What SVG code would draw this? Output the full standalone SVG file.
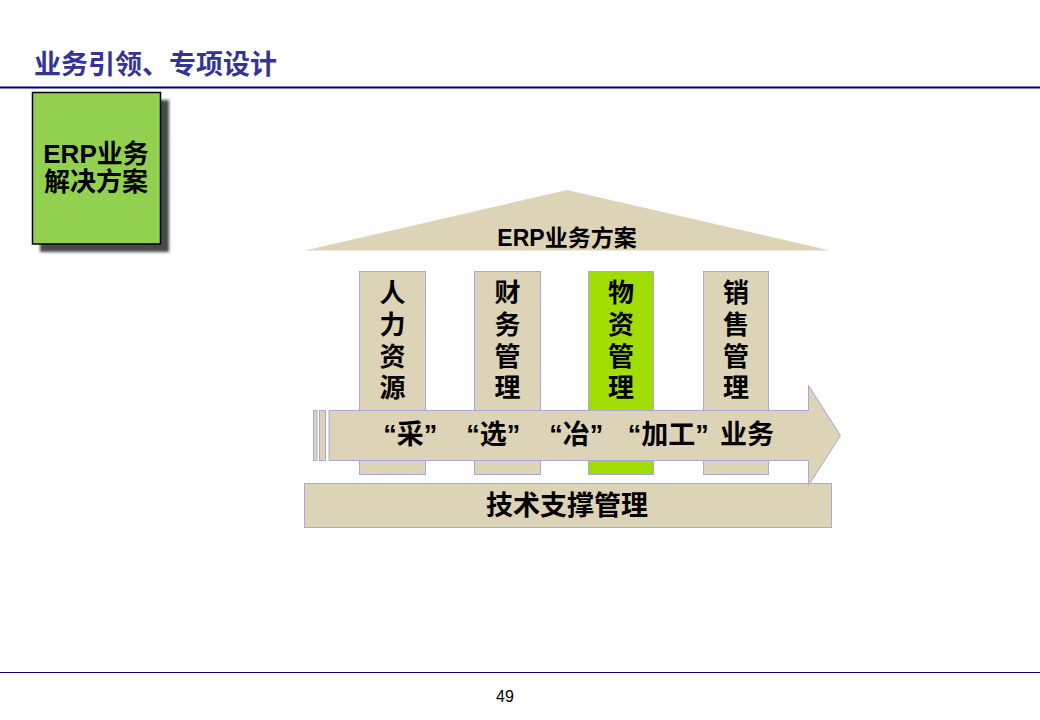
<svg xmlns="http://www.w3.org/2000/svg" width="1040" height="720" viewBox="0 0 1040 720">
<defs>
<style>
.cjk{font-family:"Liberation Sans","Noto Sans CJK SC",sans-serif;font-weight:bold;fill:#000}
.tan{fill:#DDD3B7;stroke:#A8A8E0;stroke-width:1}
.vt{font-size:26px;text-anchor:middle}
</style>
<filter id="sh" x="-20%" y="-20%" width="140%" height="140%">
<feGaussianBlur stdDeviation="1.8"/>
</filter>
</defs>
<rect width="1040" height="720" fill="#fff"/>
<g id="header">
<text x="34" y="74" class="cjk" style="font-size:27px;fill:#333399">业务引领、专项设计</text>
<line x1="0" y1="87.5" x2="1040" y2="87.5" stroke="#000080" stroke-width="2"/>
</g>
<g id="erp-box">
<rect x="40" y="100" width="129" height="152" fill="#4a4a4a" filter="url(#sh)"/>
<rect x="32.5" y="92.5" width="128" height="151.5" fill="#92D050" stroke="#000" stroke-width="1.5"/>
<text x="96" y="163" class="cjk" style="font-size:26px;text-anchor:middle">ERP业务</text>
<text x="96" y="191" class="cjk" style="font-size:26px;text-anchor:middle">解决方案</text>
</g>
<g id="roof">
<polygon points="305,250.5 567,190 830,250.5" fill="#DDD3B7"/>
<text x="567" y="246" class="cjk" style="font-size:23px;text-anchor:middle">ERP业务方案</text>
</g>
<g id="pillar-hr">
<rect x="359.5" y="271.5" width="66" height="203" class="tan"/>
<text class="cjk vt" x="392.5" y="302">人</text>
<text class="cjk vt" x="392.5" y="334">力</text>
<text class="cjk vt" x="392.5" y="366">资</text>
<text class="cjk vt" x="392.5" y="397">源</text>
</g>
<g id="pillar-fin">
<rect x="474.5" y="271.5" width="66" height="203" class="tan"/>
<text class="cjk vt" x="507.5" y="302">财</text>
<text class="cjk vt" x="507.5" y="334">务</text>
<text class="cjk vt" x="507.5" y="366">管</text>
<text class="cjk vt" x="507.5" y="397">理</text>
</g>
<g id="pillar-mat">
<rect x="588.5" y="271.5" width="65" height="203" fill="#A2DD00" stroke="#A8A8E0" stroke-width="1"/>
<text class="cjk vt" x="621" y="302">物</text>
<text class="cjk vt" x="621" y="334">资</text>
<text class="cjk vt" x="621" y="366">管</text>
<text class="cjk vt" x="621" y="397">理</text>
</g>
<g id="pillar-sales">
<rect x="703.5" y="271.5" width="65" height="203" class="tan"/>
<text class="cjk vt" x="736" y="302">销</text>
<text class="cjk vt" x="736" y="334">售</text>
<text class="cjk vt" x="736" y="366">管</text>
<text class="cjk vt" x="736" y="397">理</text>
</g>
<g id="support-bar">
<rect x="304.5" y="483.5" width="527" height="44" class="tan"/>
<text x="567" y="515" class="cjk" style="font-size:27px;text-anchor:middle">技术支撑管理</text>
</g>
<g id="connectors">
<g id="process-arrow">
<rect x="313.5" y="410.5" width="3.5" height="50" class="tan"/>
<rect x="319.5" y="410.5" width="6" height="50" class="tan"/>
<polygon points="329,410.5 808.5,410.5 808.5,385.5 840.5,435.5 808.5,485.5 808.5,460.5 329,460.5" class="tan"/>
<text y="444" class="cjk" style="font-size:27px;text-anchor:middle">
<tspan x="414">“采”</tspan>
<tspan x="497">“选”</tspan>
<tspan x="580">“冶”</tspan>
<tspan x="672">“加工”</tspan>
<tspan x="747">业务</tspan>
</text>
</g>
</g>
<g id="footer">
<line x1="0" y1="672.5" x2="1040" y2="672.5" stroke="#000080" stroke-width="1"/>
<text x="505" y="702" style="font-family:'Liberation Sans',sans-serif;font-size:16px;text-anchor:middle;fill:#000">49</text>
</g>
</svg>
